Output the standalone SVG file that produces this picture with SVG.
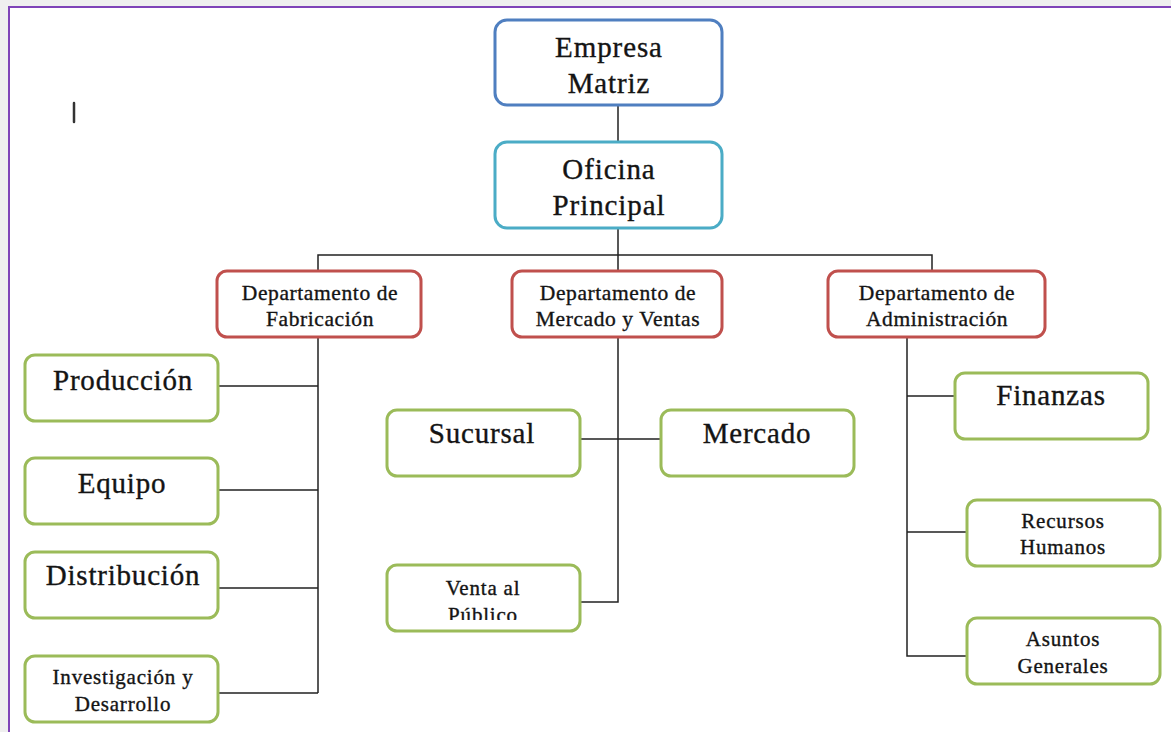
<svg xmlns="http://www.w3.org/2000/svg" width="1171" height="732" viewBox="0 0 1171 732">
<style>
.bx{fill:#fff;stroke-width:3}
.blue{stroke:#4f7fc0}
.cyan{stroke:#4bacc6}
.red{stroke:#c0504d}
.green{stroke:#9bbb59}
text{font-family:"Liberation Serif","Times New Roman",serif;fill:#141414;stroke:#141414;stroke-width:0.35px;text-anchor:middle}
.t1{font-size:29px;letter-spacing:0.9px}
.t2{font-size:21.5px;letter-spacing:0.6px}
.t3{font-size:29px;letter-spacing:0.8px}
.t4{font-size:21px;letter-spacing:0.8px}
.cn{fill:none;stroke:#222;stroke-width:1.5}
</style>
<defs>
<clipPath id="clipVenta"><rect x="387" y="565" width="193" height="55"/></clipPath>
</defs>
<rect x="0" y="0" width="1171" height="732" fill="#efefef"/>
<rect x="9" y="7" width="1170" height="740" fill="#fff" stroke="#7f44b8" stroke-width="2"/>
<line x1="74" y1="103" x2="74" y2="122" stroke="#333" stroke-width="2.5" stroke-linecap="round"/>

<g id="connectors">
<path class="cn" d="M618 105V142M618 228V255M318 271V255H932V271M618 255V271"/>
<path class="cn" d="M318 337V693M218 386H318M218 490H318M218 588H318M218 693H318"/>
<path class="cn" d="M618 337V602H580M580 439H661"/>
<path class="cn" d="M907 337V656H967M907 396H955M907 532H967"/>
</g>

<g id="empresa-matriz">
<rect class="bx blue" x="495" y="20" width="227" height="85" rx="12"/>
<text class="t1" x="609" y="57">Empresa</text>
<text class="t1" x="609" y="93">Matriz</text>
</g>
<g id="oficina-principal">
<rect class="bx cyan" x="495" y="142" width="227" height="86" rx="12"/>
<text class="t1" x="609" y="179">Oficina</text>
<text class="t1" x="609" y="215">Principal</text>
</g>

<g id="dep-fabricacion">
<rect class="bx red" x="217" y="271" width="204" height="66" rx="10"/>
<text class="t2" x="320" y="300">Departamento de</text>
<text class="t2" x="320" y="326">Fabricación</text>
</g>
<g id="dep-mercado">
<rect class="bx red" x="512" y="271" width="210" height="66" rx="10"/>
<text class="t2" x="618" y="300">Departamento de</text>
<text class="t2" x="618" y="326">Mercado y Ventas</text>
</g>
<g id="dep-administracion">
<rect class="bx red" x="828" y="271" width="217" height="66" rx="10"/>
<text class="t2" x="937" y="300">Departamento de</text>
<text class="t2" x="937" y="326">Administración</text>
</g>

<g id="produccion">
<rect class="bx green" x="25" y="355" width="193" height="66" rx="10"/>
<text class="t3" x="123" y="390">Producción</text>
</g>
<g id="equipo">
<rect class="bx green" x="25" y="458" width="193" height="66" rx="10"/>
<text class="t3" x="122" y="493">Equipo</text>
</g>
<g id="distribucion">
<rect class="bx green" x="25" y="552" width="193" height="66" rx="10"/>
<text class="t3" x="123" y="585">Distribución</text>
</g>
<g id="investigacion">
<rect class="bx green" x="25" y="656" width="193" height="66" rx="10"/>
<text class="t4" x="123" y="684">Investigación y</text>
<text class="t4" x="123" y="711">Desarrollo</text>
</g>

<g id="sucursal">
<rect class="bx green" x="387" y="410" width="193" height="66" rx="10"/>
<text class="t3" x="482" y="443">Sucursal</text>
</g>
<g id="mercado">
<rect class="bx green" x="661" y="410" width="193" height="66" rx="10"/>
<text class="t3" x="757" y="443">Mercado</text>
</g>
<g id="venta-publico">
<rect class="bx green" x="387" y="565" width="193" height="66" rx="10"/>
<g clip-path="url(#clipVenta)">
<text class="t4" x="483" y="595">Venta al</text>
<text class="t4" x="483" y="622">Público</text>
</g>
</g>

<g id="finanzas">
<rect class="bx green" x="955" y="373" width="193" height="66" rx="10"/>
<text class="t3" x="1051" y="405">Finanzas</text>
</g>
<g id="recursos-humanos">
<rect class="bx green" x="967" y="500" width="193" height="66" rx="10"/>
<text class="t4" x="1063" y="528">Recursos</text>
<text class="t4" x="1063" y="554">Humanos</text>
</g>
<g id="asuntos-generales">
<rect class="bx green" x="967" y="618" width="193" height="66" rx="10"/>
<text class="t4" x="1063" y="646">Asuntos</text>
<text class="t4" x="1063" y="673">Generales</text>
</g>
</svg>
